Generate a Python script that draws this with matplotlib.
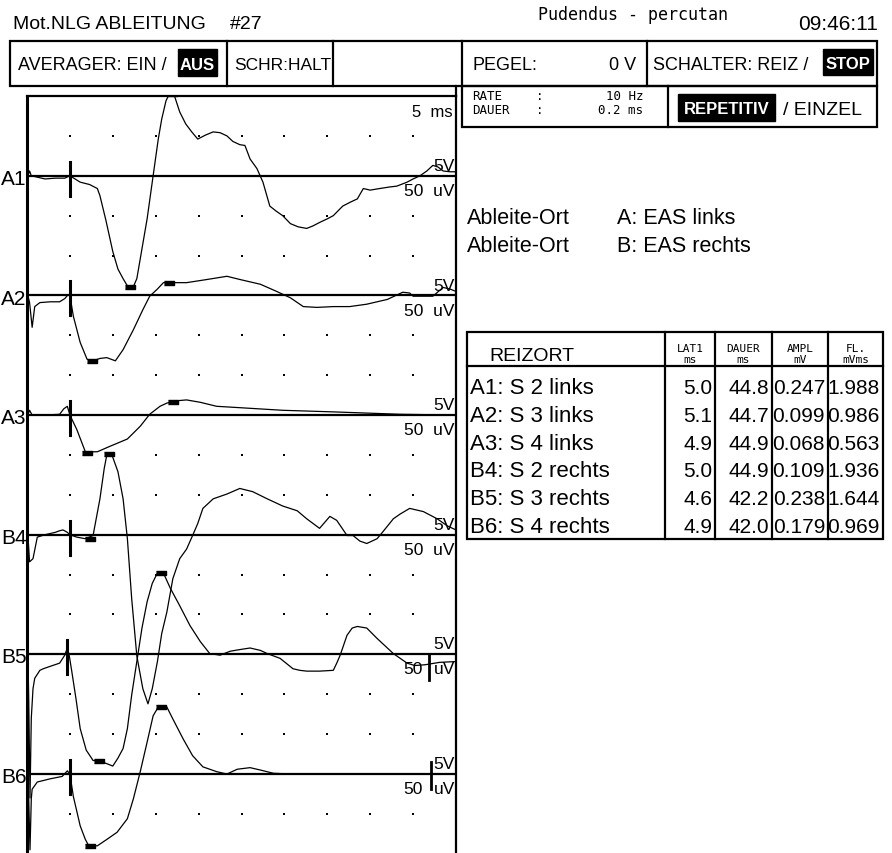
import matplotlib
matplotlib.use('Agg')
import matplotlib.pyplot as plt
from matplotlib.patches import Rectangle

plt.rcParams['font.family'] = ['Liberation Sans', 'DejaVu Sans']
MONO = 'DejaVu Sans Mono'   # the thin printer font used for a few labels

# six traces, time in ms, amplitude in uV (up = positive on screen)
labels = ['A1', 'A2', 'A3', 'B4', 'B5', 'B6']
baselines = [17, 14, 11, 8, 5, 2]   # in divisions (50 uV / div)

a1_t = [0.1, 0.3, 0.5, 0.9, 2.1, 3.3, 4.4, 5.0, 6.2, 7.3, 8.2, 8.5, 9.2, 10.0, 10.6, 11.2, 11.7, 12.4,
        12.8, 13.2, 14.0, 14.7, 15.3, 15.7, 16.2, 16.6, 17.1, 17.8, 18.5, 19.2, 19.9, 20.8, 21.7, 22.5,
        23.3, 24.0, 24.8, 25.4, 26.0, 26.8, 27.5, 28.3, 29.0, 29.8, 30.7, 31.6, 32.6, 33.3, 34.2, 35.0,
        35.7, 36.8, 37.7, 38.5, 39.2, 40.0, 41.1, 42.3, 43.1, 44.3, 45.0, 45.8, 46.6, 47.3, 47.9, 48.5,
        49.3, 50.0]
a1_uv = [0, 6, 0, -1, -4, -3, -3, 0, -8, -11, -16, -25, -56, -95, -117, -129, -138, -139,
         -129, -104, -54, 0, 46, 71, 94, 103, 103, 80, 65, 55, 46, 51, 55, 54,
         50, 43, 39, 38, 21, 9, -8, -38, -44, -50, -60, -64, -66, -63, -58, -54,
         -50, -38, -33, -29, -16, -18, -16, -14, -13, -8, -4, 0, 6, 13, 11, 6,
         5, 5]

a2_t = [0.1, 0.3, 0.6, 0.9, 1.5, 2.7, 3.8, 4.4, 4.8, 5.0, 5.4, 6.2, 7.0, 7.7, 8.5, 9.3, 10.3, 11.2,
        12.4, 13.5, 14.3, 15.2, 15.9, 17.0, 18.6, 21.0, 23.3, 24.8, 27.2, 29.1, 30.7, 32.2, 33.8, 35.7,
        37.6, 39.6, 42.0, 43.8, 44.6, 45.0, 46.4, 47.3, 48.5, 49.3, 50.0]
a2_uv = [0, -9, -40, -14, -9, -8, -8, -4, 1, 0, -26, -59, -80, -82, -79, -78, -82, -68,
         -43, -18, -1, 8, 16, 16, 16, 20, 24, 20, 14, 5, -3, -14, -15, -14,
         -14, -11, -5, 4, 3, -1, -1, -1, 10, 8, 5]

a3_t = [0.1, 0.3, 0.6, 2.1, 3.8, 4.3, 4.7, 5.0, 5.8, 6.8, 8.2, 9.7, 11.7, 13.2, 14.3, 15.5, 16.3,
        17.5, 18.6, 20.2, 22.1, 25.2, 29.8, 35.7, 43.5, 50.0]
a3_uv = [0, 6, 0, 0, 1, 8, 11, 0, -18, -46, -46, -39, -30, -14, 1, 11, 15,
         18, 19, 16, 11, 9, 6, 4, 1, 0]

b4_t = [0.1, 0.3, 0.7, 1.2, 2.1, 3.3, 3.8, 4.2, 4.7, 5.0, 5.8, 6.8, 7.7, 8.5, 9.0, 9.3, 9.9, 10.6,
        11.2, 11.7, 12.2, 12.8, 13.5, 14.1, 14.6, 15.2, 15.7, 16.3, 17.0, 17.8, 18.6, 19.3, 19.9, 20.5,
        21.7, 23.3, 24.8, 26.3, 28.0, 29.8, 31.5, 32.6, 34.1, 35.3, 36.1, 37.3, 38.0, 38.8, 39.6, 40.8,
        41.5, 42.7, 43.5, 44.6, 46.2, 47.8, 49.0, 50.0]
b4_uv = [0, -34, -30, -3, 0, 3, 5, 6, 3, 0, -3, -5, -1, 45, 83, 100, 100, 79,
         45, -5, -80, -152, -193, -212, -193, -159, -124, -97, -55, -30, -18, -1, 14, 33,
         45, 51, 58, 54, 45, 36, 30, 20, 8, 23, 18, -1, -1, -8, -11, -5,
         4, 20, 26, 33, 29, 20, 11, 6]

b5_t = [0.1, 0.2, 0.35, 0.5, 0.7, 0.9, 1.5, 1.9, 2.7, 3.8, 4.4, 4.7, 4.9, 5.2, 5.7, 6.2, 6.9, 7.7,
        8.5, 9.3, 10.0, 10.6, 11.2, 11.7, 12.2, 12.8, 13.4, 14.0, 14.6, 15.2, 15.9, 16.7, 17.8, 19.0,
        20.2, 21.3, 22.5, 23.7, 24.8, 26.0, 27.2, 28.0, 29.5, 31.0, 31.8, 32.6, 34.1, 35.7, 36.1, 36.5,
        37.3, 37.9, 38.5, 39.6, 40.8, 42.0, 42.7, 43.5, 44.3, 45.2, 46.4, 48.1, 50.0]
b5_uv = [0, -55, -180, -80, -43, -30, -20, -18, -15, -11, -1, 8, 0, -20, -55, -93, -120, -133,
         -134, -137, -140, -130, -118, -93, -51, -9, 33, 66, 89, 102, 102, 83, 61, 36,
         16, 1, -1, 4, 6, 8, 5, 1, -5, -18, -20, -21, -21, -20, -11, -1,
         24, 33, 35, 33, 20, 8, 1, -5, -11, -14, -13, -10, -9]

b6_t = [0.1, 0.2, 0.35, 0.5, 0.6, 1.2, 2.7, 4.1, 4.7, 5.0, 5.4, 6.2, 6.8, 7.2, 8.2, 9.3, 10.5, 11.7,
        12.4, 13.2, 14.0, 14.7, 15.3, 16.3, 17.0, 18.2, 19.3, 20.5, 22.1, 23.3, 24.5, 26.0, 27.2, 28.7,
        30.7, 50.0]
b6_uv = [0, -31, -95, -31, -19, -10, -6, -3, 4, 0, -28, -65, -82, -90, -90, -82, -73, -56,
         -31, 3, 40, 73, 84, 84, 69, 44, 23, 9, 3, 0, 6, 8, 5, 1,
         0, 0]

traces_t = [a1_t, a2_t, a3_t, b4_t, b5_t, b6_t]
traces_uv = [a1_uv, a2_uv, a3_uv, b4_uv, b5_uv, b6_uv]

# cursor marks (latency / peak) and stimulus time
mark_t = [[12.0, 16.9], [7.6, 16.5], [7.0, 17.0], [7.3, 9.5], [8.4, 15.6], [7.3, 15.6]]
mark_uv = [[-139, 103], [-82, 16], [-47, 17], [-5, 101], [-134, 102], [-90, 84]]
stim_t = [5.0, 5.0, 5.0, 5.0, 4.7, 5.0]

# result table
reizort = ['A1: S 2 links', 'A2: S 3 links', 'A3: S 4 links',
           'B4: S 2 rechts', 'B5: S 3 rechts', 'B6: S 4 rechts']
lat1 = ['5.0', '5.1', '4.9', '5.0', '4.6', '4.9']
dauer = ['44.8', '44.7', '44.9', '44.9', '42.2', '42.0']
ampl = ['0.247', '0.099', '0.068', '0.109', '0.238', '0.179']
fl = ['1.988', '0.986', '0.563', '1.936', '1.644', '0.969']

UV_PER_DIV = 50.0

fig = plt.figure(figsize=(8.92, 8.54), dpi=100)

# ---- trace area
ax = fig.add_axes([27 / 892, 0, 429 / 892, 757 / 854])
ax.set_xlim(0, 50)
ax.set_ylim(0.02, 19.0)
ax.set_xticks([])
ax.set_yticks([])
ax.spines['bottom'].set_visible(False)
ax.spines['left'].set_linewidth(2.2)
ax.spines['top'].set_linewidth(1.6)
ax.spines['right'].set_linewidth(1.6)

# dot grid, 5 ms x 1 div
gx = [5 * i for i in range(1, 10)]
gy = list(range(1, 19))
ax.scatter([x for x in gx for _ in gy], [y for _ in gx for y in gy], s=3, marker='s', color='black', lw=0)

rect_mark = [(-1, -0.45), (1, -0.45), (1, 0.45), (-1, 0.45)]
for i in range(6):
    b = baselines[i]
    ax.axhline(b, color='black', lw=1.6)
    ys = [b + v / UV_PER_DIV for v in traces_uv[i]]
    ax.plot(traces_t[i], ys, color='black', lw=0.9)
    ax.plot(mark_t[i], [b + v / UV_PER_DIV for v in mark_uv[i]], ls='none',
            marker=rect_mark, ms=7, color='black')
    ax.plot([stim_t[i], stim_t[i]], [b + 0.35, b - 0.5], color='black', lw=2.2)
# calibration bars on B5 / B6
ax.plot([46.9, 46.9], [5, 5 - 0.65], color='black', lw=2)
ax.plot([47.1, 47.1], [2 + 0.3, 2 - 0.38], color='black', lw=2)

# ---- overlay in pixel coordinates for the screen frame
ov = fig.add_axes([0, 0, 1, 1], facecolor='none')
ov.set_xlim(0, 892)
ov.set_ylim(854, 0)
ov.axis('off')


def txt(x, y, s, fs, ha='left', **kw):
    ov.text(x, y, s, ha=ha, va='baseline', fontsize=fs, **kw)


def box(x0, y0, x1, y1, lw=1.6):
    ov.add_patch(Rectangle((x0, y0), x1 - x0, y1 - y0, fill=False, lw=lw, ec='black'))


def inverse(x0, y0, x1, y1, s, fs=12):
    ov.add_patch(Rectangle((x0, y0), x1 - x0, y1 - y0, color='black'))
    ov.text((x0 + x1) / 2, (y0 + y1) / 2, s, color='white', ha='center', va='center_baseline',
            fontsize=fs, fontweight='bold')


# trace names and scale labels
for i, lab in enumerate(labels):
    py = 775 - 39.87 * (baselines[i] - 2)
    txt(1, py + 8, lab, 15)
    txt(455, py - 6, '5V', 12.5, ha='right')
    if i < 4:
        txt(455, py + 19, '50  uV', 12.5, ha='right')
    else:
        txt(423, py + 19, '50', 12.5, ha='right')
        txt(455, py + 19, 'uV', 12.5, ha='right')
txt(453, 117, '5  ms', 12, ha='right')

# title row
txt(13, 29, 'Mot.NLG ABLEITUNG', 14)
txt(230, 29, '#27', 14)
txt(538, 20, 'Pudendus - percutan', 12, family=MONO)
txt(878, 30, '09:46:11', 15, ha='right')

# status boxes
box(10, 42, 877, 87)
for x in [227, 333, 462, 647]:
    ov.plot([x, x], [42, 87], color='black', lw=1.6)
ov.plot([456, 456], [87, 97], color='black', lw=1.6)
txt(18, 70, 'AVERAGER: EIN /', 13)
inverse(178, 50, 217, 77, 'AUS')
txt(234, 70, 'SCHR:HALT', 12.5)
txt(472, 70, 'PEGEL:', 13)
txt(636, 70, '0 V', 13, ha='right')
txt(653, 70, 'SCHALTER: REIZ /', 13)
inverse(823, 50, 873, 76, 'STOP')

box(462, 87, 877, 128)
ov.plot([668, 668], [87, 128], color='black', lw=1.6)
txt(472, 100, 'RATE', 9, family=MONO)
txt(472, 114, 'DAUER', 9, family=MONO)
txt(536, 100, ':', 9, family=MONO)
txt(536, 114, ':', 9, family=MONO)
txt(643, 100, '10 Hz', 9, ha='right', family=MONO)
txt(643, 114, '0.2 ms', 9, ha='right', family=MONO)
inverse(678, 95, 775, 122, 'REPETITIV')
txt(783, 115, '/ EINZEL', 14)

# electrode sites
txt(467, 224, 'Ableite-Ort', 15.5)
txt(617, 224, 'A: EAS links', 15.5)
txt(467, 252, 'Ableite-Ort', 15.5)
txt(617, 252, 'B: EAS rechts', 15.5)

# table
t_top, t_head, t_bot = 333, 367, 540
cols = [467, 665, 715, 772, 828, 883]
box(cols[0], t_top, cols[-1], t_bot)
ov.plot([cols[0], cols[-1]], [t_head, t_head], color='black', lw=1.6)
for x in cols[1:-1]:
    ov.plot([x, x], [t_top, t_bot], color='black', lw=1.6)
txt(532, 361, 'REIZORT', 14, ha='center')
heads = [('LAT1', 'ms'), ('DAUER', 'ms'), ('AMPL', 'mV'), ('FL.', 'mVms')]
for j, (h1, h2) in enumerate(heads):
    cx = (cols[j + 1] + cols[j + 2]) / 2
    txt(cx, 352, h1, 8, ha='center', family=MONO)
    txt(cx, 363, h2, 8, ha='center', family=MONO)
for r in range(6):
    base = 394 + 27.8 * r
    txt(470, base, reizort[r], 16)
    for j, col in enumerate([lat1, dauer, ampl, fl]):
        txt(cols[j + 2] - 3, base, col[r], 15, ha='right')

fig.savefig('out.png', dpi=100)
